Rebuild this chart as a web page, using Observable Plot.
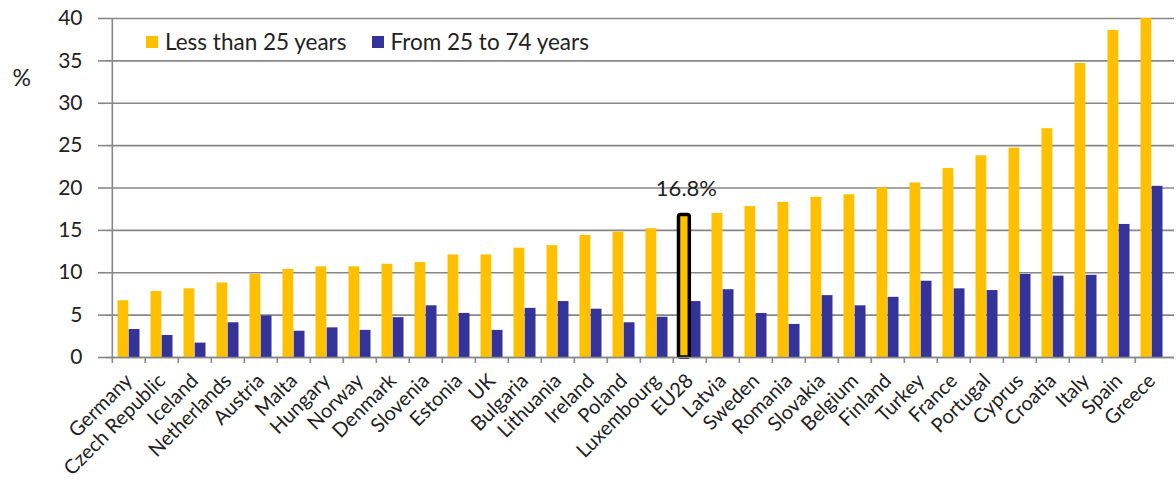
<!DOCTYPE html>
<html>
<head>
<meta charset="utf-8">
<script src="https://cdn.jsdelivr.net/npm/d3@7"></script>
<script src="https://cdn.jsdelivr.net/npm/@observablehq/plot@0.6"></script>
<style>
  html, body { margin: 0; padding: 0; background: #fff; }
  #wrap { position: relative; width: 1176px; height: 486px; font-family: Lato, "Noto Sans", sans-serif; }
  #legend { position: absolute; left: 146px; top: 28px; display: flex; align-items: center; font-size: 22.5px; color: #222; }
  #legend .sw { width: 12px; height: 12px; display: inline-block; margin-right: 7px; }
  #legend .item { display: flex; align-items: center; margin-right: 25px; }
</style>
</head>
<body>
<div id="wrap">
  <div id="chart"></div>
  <div id="legend">
    <div class="item"><span class="sw" style="background:#FFC000"></span>Less than 25 years</div>
    <div class="item"><span class="sw" style="background:#333399"></span>From 25 to 74 years</div>
  </div>
</div>
<script>
const countries = ["Germany","Czech Republic","Iceland","Netherlands","Austria","Malta","Hungary","Norway","Denmark","Slovenia","Estonia","UK","Bulgaria","Lithuania","Ireland","Poland","Luxembourg","EU28","Latvia","Sweden","Romania","Slovakia","Belgium","Finland","Turkey","France","Portugal","Cyprus","Croatia","Italy","Spain","Greece"];
const under25 = [6.7,7.8,8.1,8.8,9.8,10.4,10.7,10.7,11.0,11.2,12.1,12.1,12.9,13.2,14.4,14.8,15.2,16.8,17.0,17.8,18.3,18.9,19.2,20.0,20.6,22.3,23.8,24.7,27.0,34.7,38.6,40.0];
const from25to74 = [3.3,2.6,1.7,4.1,4.9,3.1,3.5,3.2,4.7,6.1,5.2,3.2,5.8,6.6,5.7,4.1,4.75,6.6,8.0,5.2,3.9,7.3,6.1,7.1,9.0,8.1,7.9,9.8,9.6,9.7,15.7,20.2];
const yTicks = [0,5,10,15,20,25,30,35,40];
const highlight = "EU28";

const data = countries.map((c, i) => ({country: c, young: under25[i], adult: from25to74[i]}));

const W = 1176, H = 486;
const mL = 106, mR = 2, mT = 18, mB = 129;
const step = (W - mL - mR) / countries.length;
const pad = 5.5, bw = (step - 2 * pad) / 2;
const gray = "#878787";
const font = "Lato, 'Noto Sans', sans-serif";

const chart = Plot.plot({
  width: W, height: H,
  marginLeft: mL, marginRight: mR, marginTop: mT, marginBottom: mB,
  style: {fontFamily: font, color: "#222", background: "#fff"},
  x: {type: "band", domain: countries, padding: 0, label: null},
  y: {domain: [0, 40], label: null},
  marks: [
    Plot.gridY(yTicks, {stroke: gray, strokeOpacity: 1, strokeWidth: 1.6}),
    Plot.axisY(yTicks, {tickSize: 8, stroke: gray, strokeWidth: 1.6, tickPadding: 16, fontSize: 21, label: null}),
    Plot.axisX({tickSize: 0, tickRotate: -45, fontSize: 20, tickPadding: 10, dx: 0, dy: 10, label: null}),
    Plot.barY(data, {x: "country", y: "young", fill: "#FFC000", insetLeft: pad, insetRight: pad + bw}),
    Plot.barY(data, {x: "country", y: "adult", fill: "#333399", insetLeft: pad + bw, insetRight: pad}),
    Plot.barY(data.filter(d => d.country === highlight), {x: "country", y: "young", fill: "#FFC000", stroke: "#000", strokeWidth: 3.5, rx: 2, insetLeft: pad, insetRight: pad + bw}),
    Plot.text(data.filter(d => d.country === highlight), {x: "country", y: "young", text: d => d.young.toFixed(1) + "%", dy: -26, dx: -bw / 2 + 2, fontSize: 22, fill: "#222"}),
    Plot.ruleY([0], {stroke: gray, strokeWidth: 1.6}),
    Plot.ruleX([countries[0]], {stroke: gray, strokeWidth: 1.6, dx: -step / 2}),
    Plot.ruleX(countries, {stroke: gray, strokeWidth: 1.6, dx: -step / 2, insetTop: H - mT - mB, insetBottom: -6}),
    Plot.text(["%"], {frameAnchor: "top-left", dx: -94, dy: 51, fontSize: 23, fill: "#222"})
  ]
});
document.getElementById("chart").appendChild(chart);
</script>
</body>
</html>
